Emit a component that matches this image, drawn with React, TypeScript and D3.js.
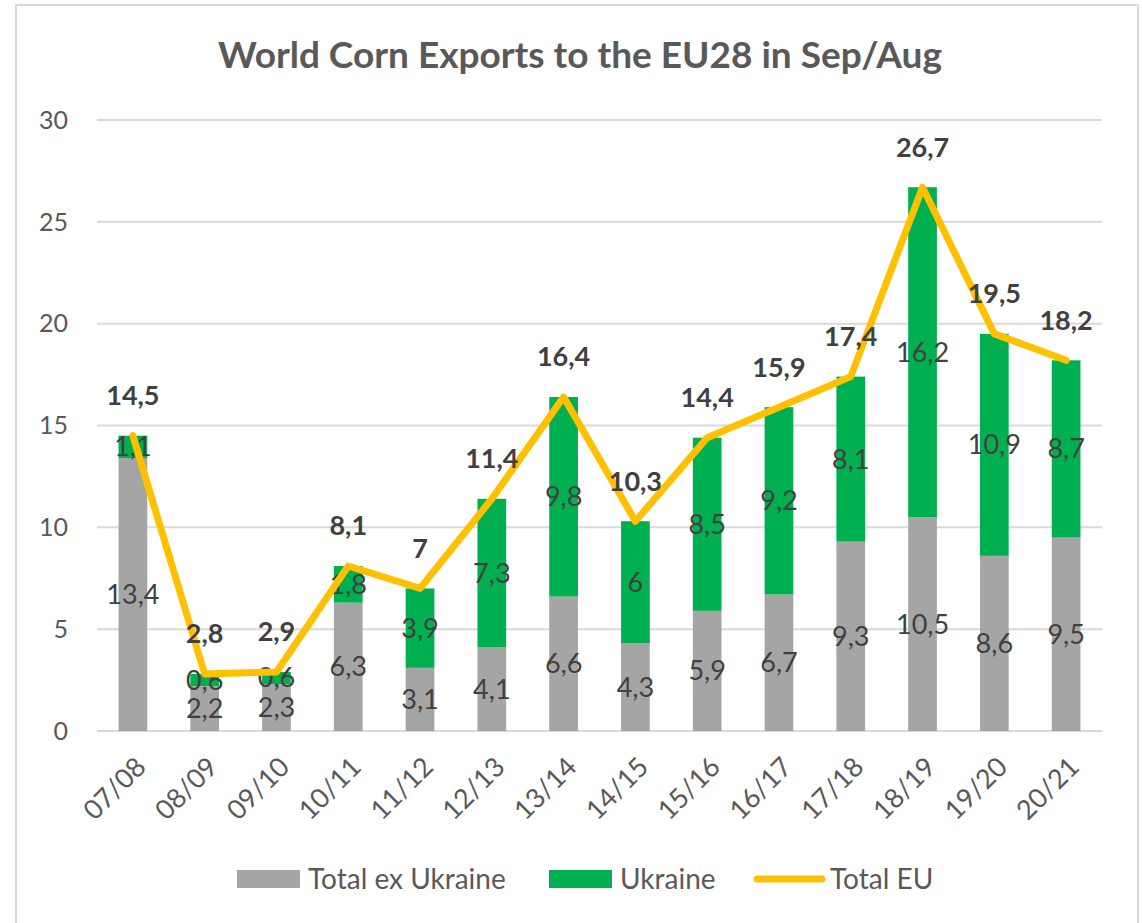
import React from 'react';
import * as d3 from 'd3';

const seasons = ['07/08', '08/09', '09/10', '10/11', '11/12', '12/13', '13/14', '14/15', '15/16', '16/17', '17/18', '18/19', '19/20', '20/21'];
const exUkraine = [13.4, 2.2, 2.3, 6.3, 3.1, 4.1, 6.6, 4.3, 5.9, 6.7, 9.3, 10.5, 8.6, 9.5];
const ukraine = [1.1, 0.6, 0.6, 1.8, 3.9, 7.3, 9.8, 6, 8.5, 9.2, 8.1, 16.2, 10.9, 8.7];
const totalEU = [14.5, 2.8, 2.9, 8.1, 7, 11.4, 16.4, 10.3, 14.4, 15.9, 17.4, 26.7, 19.5, 18.2];
const yTicks = [0, 5, 10, 15, 20, 25, 30];

const W = 1142;
const H = 923;
const FONT = 'Lato, "Open Sans", sans-serif';
const GRAY = '#A5A5A5';
const GREEN = '#00B050';
const GOLD = '#FFC000';

const fmt = (v: number) => String(v).replace('.', ',');

const App: React.FC = () => {
  const margin = { left: 97, right: 40, top: 120, bottom: 192 };
  const x = d3.scaleBand<string>()
    .domain(seasons)
    .range([margin.left, W - margin.right])
    .paddingInner(0.6)
    .paddingOuter(0.3);
  const y = d3.scaleLinear().domain([0, 30]).range([H - margin.bottom, margin.top]);
  const cx = (s: string) => x(s)! + x.bandwidth() / 2;

  const line = d3.line<number>()
    .x((_, i) => cx(seasons[i]))
    .y(d => y(d));

  const legend = [
    { label: 'Total ex Ukraine', color: GRAY, kind: 'rect', x: 237 },
    { label: 'Ukraine', color: GREEN, kind: 'rect', x: 549 },
    { label: 'Total EU', color: GOLD, kind: 'line', x: 754 },
  ];

  return (
    <svg width={W} height={H} style={{ position: 'absolute', left: 0, top: 0, background: '#fff' }} fontFamily={FONT}>
      <rect x={16} y={5} width={1122} height={930} fill="#fff" stroke="#D9D9D9" strokeWidth={2} />
      <text x={580} y={68} textAnchor="middle" fontSize={37} fontWeight="bold" fill="#595959">
        World Corn Exports to the EU28 in Sep/Aug
      </text>

      {/* gridlines + y labels */}
      {yTicks.map(t => (
        <g key={t}>
          <line x1={margin.left} x2={W - margin.right} y1={y(t)} y2={y(t)} stroke="#D9D9D9" strokeWidth={2} />
          <text x={68} y={y(t)} dy="0.35em" textAnchor="end" fontSize={25} fill="#595959">{t}</text>
        </g>
      ))}

      {/* stacked bars */}
      {seasons.map((s, i) => (
        <g key={s}>
          <rect x={x(s)} width={x.bandwidth()} y={y(exUkraine[i])} height={y(0) - y(exUkraine[i])} fill={GRAY} />
          <rect x={x(s)} width={x.bandwidth()} y={y(exUkraine[i] + ukraine[i])} height={y(exUkraine[i]) - y(exUkraine[i] + ukraine[i])} fill={GREEN} />
        </g>
      ))}

      {/* segment labels */}
      {seasons.map((s, i) => (
        <g key={'l' + s} fontSize={27} fill="#404040" textAnchor="middle">
          <text x={cx(s)} y={y(exUkraine[i] / 2)} dy="0.35em">{fmt(exUkraine[i])}</text>
          <text x={cx(s)} y={y(exUkraine[i] + ukraine[i] / 2)} dy="0.35em">{fmt(ukraine[i])}</text>
        </g>
      ))}

      <path d={line(totalEU) || ''} fill="none" stroke={GOLD} strokeWidth={7} strokeLinejoin="round" strokeLinecap="round" />

      {/* total labels */}
      {seasons.map((s, i) => (
        <text key={'t' + s} x={cx(s)} y={y(totalEU[i]) - 40} dy="0.35em" textAnchor="middle" fontSize={27} fontWeight="bold" fill="#404040">
          {fmt(totalEU[i])}
        </text>
      ))}

      {/* x labels */}
      {seasons.map(s => (
        <text key={'x' + s} transform={`translate(${cx(s) + 8},${y(0) + 31}) rotate(-45)`} textAnchor="end" dy="0.35em" fontSize={27} fill="#595959">
          {s}
        </text>
      ))}

      {/* legend */}
      {legend.map(d => (
        <g key={d.label}>
          {d.kind === 'rect'
            ? <rect x={d.x} y={870} width={63} height={18} fill={d.color} />
            : <line x1={d.x + 3} x2={d.x + 68} y1={879} y2={879} stroke={d.color} strokeWidth={7} strokeLinecap="round" />}
          <text x={d.x + (d.kind === 'rect' ? 71 : 76)} y={879} dy="0.35em" fontSize={28} fill="#595959">{d.label}</text>
        </g>
      ))}
    </svg>
  );
};

export default App;
